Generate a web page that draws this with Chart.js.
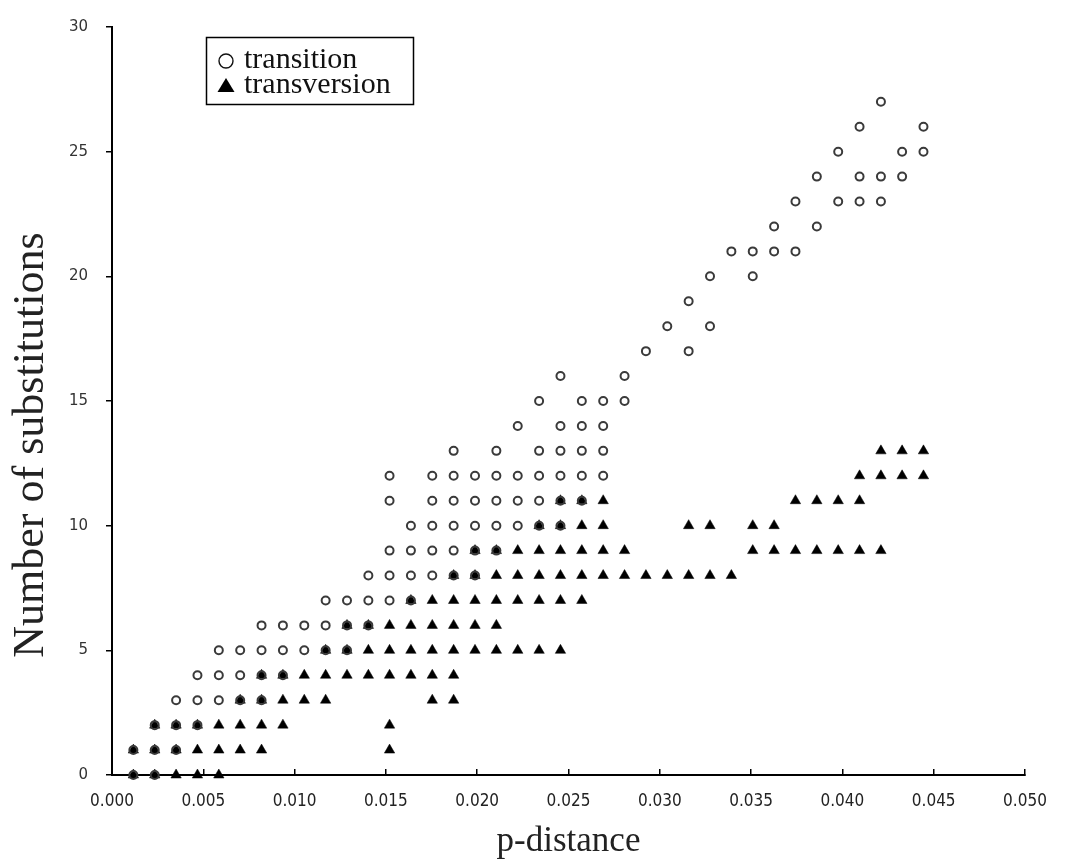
<!DOCTYPE html>
<html>
<head>
<meta charset="utf-8">
<script src="https://cdn.jsdelivr.net/npm/chart.js@4.4.1/dist/chart.umd.min.js"></script>
<style>
  html, body { margin: 0; padding: 0; background: #ffffff; }
  #c { display: block; }
</style>
</head>
<body>
<canvas id="c" width="1076" height="868"></canvas>
<script>
// p-distance levels (columns of the plot)
const pDistance = [
  0.00117, 0.00234, 0.00351, 0.00468, 0.00585, 0.00702, 0.00819, 0.00936, 0.01053, 0.01170,
  0.01287, 0.01404, 0.01520, 0.01637, 0.01754, 0.01871, 0.01988, 0.02105, 0.02222, 0.02339,
  0.02456, 0.02573, 0.02690, 0.02807, 0.02924, 0.03041, 0.03158, 0.03275, 0.03392, 0.03509,
  0.03626, 0.03743, 0.03860, 0.03977, 0.04094, 0.04211, 0.04327, 0.04444
];

// Transition: number of substitutions and the p-distance columns (1-based) where it occurs
const transitionCounts = [0,1,2,3,4,5,6,7,8,9,10,11,12,13,14,15,16,17,18,19,20,21,22,23,24,25,26,27];
const transitionCols = [
  [1,2],
  [1,2,3],
  [2,3,4],
  [3,4,5,6,7],
  [4,5,6,7,8],
  [5,6,7,8,9,10,11],
  [7,8,9,10,11,12],
  [10,11,12,13,14],
  [12,13,14,15,16,17],
  [13,14,15,16,17,18],
  [14,15,16,17,18,19,20,21],
  [13,15,16,17,18,19,20,21,22],
  [13,15,16,17,18,19,20,21,22,23],
  [16,18,20,21,22,23],
  [19,21,22,23],
  [20,22,23,24],
  [21,24],
  [25,27],
  [26,28],
  [27],
  [28,30],
  [29,30,31,32],
  [31,33],
  [32,34,35,36],
  [33,35,36,37],
  [34,37,38],
  [35,38],
  [36]
];

// Transversion
const transversionCounts = [0,1,2,3,4,5,6,7,8,9,10,11,12,13];
const transversionCols = [
  [1,2,3,4,5],
  [1,2,3,4,5,6,7,13],
  [2,3,4,5,6,7,8,13],
  [6,7,8,9,10,15,16],
  [7,8,9,10,11,12,13,14,15,16],
  [10,11,12,13,14,15,16,17,18,19,20,21],
  [11,12,13,14,15,16,17,18],
  [14,15,16,17,18,19,20,21,22],
  [16,17,18,19,20,21,22,23,24,25,26,27,28,29],
  [17,18,19,20,21,22,23,24,30,31,32,33,34,35,36],
  [20,21,22,23,27,28,30,31],
  [21,22,23,32,33,34,35],
  [35,36,37,38],
  [36,37,38]
];

const xTickLabels = ['0.000','0.005','0.010','0.015','0.020','0.025','0.030','0.035','0.040','0.045','0.050'];
const yTickLabels = ['0','5','10','15','20','25','30'];
const seriesNames = ['transition', 'transversion'];

function buildPoints(counts, cols) {
  const pts = [];
  counts.forEach((c, i) => {
    cols[i].forEach(k => pts.push({ x: pDistance[k - 1], y: c }));
  });
  return pts;
}

const transitionPoints = buildPoints(transitionCounts, transitionCols);
const transversionPoints = buildPoints(transversionCounts, transversionCols);

const boxLegend = {
  id: 'boxLegend',
  afterDraw(chart) {
    const ctx = chart.ctx;
    ctx.save();
    ctx.lineWidth = 1.5;
    ctx.strokeStyle = '#000';
    ctx.strokeRect(206.5, 37.5, 207, 67);
    // circle marker
    ctx.beginPath();
    ctx.arc(226, 61, 7, 0, Math.PI * 2);
    ctx.lineWidth = 1.4;
    ctx.strokeStyle = '#111';
    ctx.stroke();
    // triangle marker
    ctx.beginPath();
    ctx.moveTo(226, 78);
    ctx.lineTo(234.5, 92);
    ctx.lineTo(217.5, 92);
    ctx.closePath();
    ctx.fillStyle = '#000';
    ctx.fill();
    ctx.fillStyle = '#111';
    ctx.font = '30px "Liberation Serif", "Times New Roman", serif';
    ctx.textBaseline = 'middle';
    ctx.textAlign = 'left';
    ctx.fillText(seriesNames[0], 244, 60);
    ctx.fillText(seriesNames[1], 244, 85);
    ctx.restore();
  }
};

new Chart(document.getElementById('c'), {
  type: 'scatter',
  data: {
    datasets: [
      {
        label: seriesNames[0],
        data: transitionPoints,
        pointStyle: 'circle',
        pointRadius: 4,
        pointHoverRadius: 4,
        pointBorderWidth: 2,
        borderColor: '#3a3a3a',
        pointBorderColor: '#3a3a3a',
        backgroundColor: 'rgba(255,255,255,0)',
        pointBackgroundColor: 'rgba(255,255,255,0)',
        clip: false
      },
      {
        label: seriesNames[1],
        data: transversionPoints,
        pointStyle: 'triangle',
        pointRadius: 6,
        pointHoverRadius: 6,
        pointBorderWidth: 0.5,
        borderColor: '#000',
        pointBorderColor: '#000',
        backgroundColor: '#000',
        pointBackgroundColor: '#000',
        clip: false
      }
    ]
  },
  options: {
    responsive: false,
    animation: false,
    devicePixelRatio: 1,
    layout: { padding: { left: 0, right: 51, top: 22, bottom: 0 } },
    plugins: {
      legend: { display: false },
      tooltip: { enabled: false }
    },
    scales: {
      x: {
        type: 'linear',
        position: 'bottom',
        min: 0,
        max: 0.05,
        afterFit(s) { s.height = 93; },
        ticks: {
          stepSize: 0.005,
          autoSkip: false,
          maxRotation: 0,
          padding: 22,
          color: '#222',
          font: { family: '"Liberation Sans Narrow", "DejaVu Sans Condensed", sans-serif', size: 17 },
          callback: (v) => xTickLabels[Math.round(v / 0.005)]
        },
        grid: { drawOnChartArea: false, drawTicks: true, tickLength: -6, color: '#000', lineWidth: 1.5 },
        border: { display: true, color: '#000', width: 2 },
        title: {
          display: true,
          text: 'p-distance',
          color: '#222',
          font: { family: '"Liberation Serif", "Times New Roman", serif', size: 35, lineHeight: 1 },
          padding: { top: 0, bottom: 9 }
        }
      },
      y: {
        type: 'linear',
        min: 0,
        max: 30,
        afterFit(s) { s.width = 112; },
        ticks: {
          stepSize: 5,
          padding: 18,
          color: '#333',
          font: { family: '"DejaVu Sans", sans-serif', size: 15 },
          callback: (v) => yTickLabels[Math.round(v / 5)]
        },
        grid: { drawOnChartArea: false, drawTicks: true, tickLength: 6, color: '#000', lineWidth: 1.5 },
        border: { display: true, color: '#000', width: 2 },
        title: {
          display: true,
          text: 'Number of substitutions        ',
          color: '#222',
          font: { family: '"Liberation Serif", "Times New Roman", serif', size: 44, lineHeight: 1 },
          padding: { top: 9, bottom: 0 }
        }
      }
    }
  },
  plugins: [boxLegend]
});
</script>
</body>
</html>
